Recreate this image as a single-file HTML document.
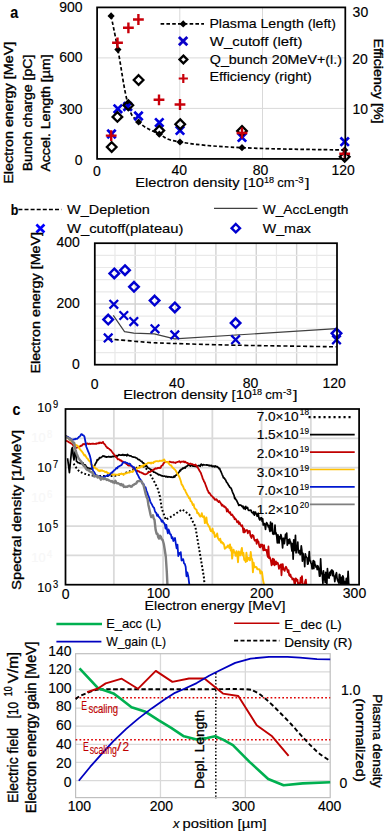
<!DOCTYPE html>
<html><head><meta charset="utf-8"><style>
html,body{margin:0;padding:0;background:#fff;}
svg{display:block;}
text{font-family:"Liberation Sans", sans-serif;}
</style></head><body>
<svg width="391" height="833" viewBox="0 0 391 833" font-family='"Liberation Sans", sans-serif'>
<rect x="0" y="0" width="391" height="833" fill="#fff"/>
<line x1="97.10" y1="57.90" x2="345.30" y2="57.90" stroke="#d9d9d9" stroke-width="1"/>
<line x1="97.10" y1="108.40" x2="345.30" y2="108.40" stroke="#d9d9d9" stroke-width="1"/>
<line x1="179.80" y1="7.40" x2="179.80" y2="158.90" stroke="#d9d9d9" stroke-width="1"/>
<line x1="262.50" y1="7.40" x2="262.50" y2="158.90" stroke="#d9d9d9" stroke-width="1"/>
<line x1="160.60" y1="23.90" x2="204.00" y2="23.90" stroke="#000" stroke-width="1.7" stroke-dasharray="3.6 2.2"/>
<path d="M183.20,20.30 L186.80,23.90 L183.20,27.50 L179.60,23.90 Z" fill="#000"/>
<path d="M178.90,36.90 L187.30,45.30 M187.30,36.90 L178.90,45.30" stroke="#0a00c8" stroke-width="2.8" fill="none"/>
<path d="M183.40,55.65 L187.25,59.50 L183.40,63.35 L179.55,59.50 Z" fill="none" stroke="#000" stroke-width="2.4"/>
<path d="M178.70,78.50 L187.90,78.50 M183.30,73.90 L183.30,83.10" stroke="#c8000a" stroke-width="2.2" fill="none"/>
<text x="209.40" y="28.10" font-size="13" textLength="126.60" lengthAdjust="spacingAndGlyphs" stroke="#000" stroke-width="0.15">Plasma Length (left)</text>
<text x="209.80" y="45.90" font-size="13" textLength="92.60" lengthAdjust="spacingAndGlyphs" stroke="#000" stroke-width="0.15">W_cutoff (left)</text>
<text x="209.80" y="63.60" font-size="13" textLength="132.20" lengthAdjust="spacingAndGlyphs" stroke="#000" stroke-width="0.15">Q_bunch 20MeV+(l.)</text>
<text x="209.40" y="81.40" font-size="13" textLength="102.50" lengthAdjust="spacingAndGlyphs" stroke="#000" stroke-width="0.15">Efficiency (right)</text>
<path d="M111.10,15.90 C112.46,22.64 114.52,31.98 117.90,49.60 C121.28,67.22 123.86,89.52 128.00,104.00 C132.14,118.48 132.34,115.96 138.60,122.00 C144.86,128.04 151.02,130.20 159.30,134.20 C167.58,138.20 163.46,139.30 180.00,142.00 C196.54,144.70 209.06,146.10 242.00,147.70 C274.94,149.30 324.16,149.54 344.70,150.00" fill="none" stroke="#000" stroke-width="1.7" stroke-dasharray="3.6 2.2"/>
<path d="M111.10,12.30 L114.70,15.90 L111.10,19.50 L107.50,15.90 Z" fill="#000"/>
<path d="M117.90,46.00 L121.50,49.60 L117.90,53.20 L114.30,49.60 Z" fill="#000"/>
<path d="M128.00,100.40 L131.60,104.00 L128.00,107.60 L124.40,104.00 Z" fill="#000"/>
<path d="M138.60,118.40 L142.20,122.00 L138.60,125.60 L135.00,122.00 Z" fill="#000"/>
<path d="M159.30,130.60 L162.90,134.20 L159.30,137.80 L155.70,134.20 Z" fill="#000"/>
<path d="M180.00,138.40 L183.60,142.00 L180.00,145.60 L176.40,142.00 Z" fill="#000"/>
<path d="M242.00,144.10 L245.60,147.70 L242.00,151.30 L238.40,147.70 Z" fill="#000"/>
<path d="M344.70,146.40 L348.30,150.00 L344.70,153.60 L341.10,150.00 Z" fill="#000"/>
<path d="M107.30,129.80 L115.70,138.20 M115.70,129.80 L107.30,138.20" stroke="#0000e0" stroke-width="2.7" fill="none"/>
<path d="M113.70,104.60 L122.10,113.00 M122.10,104.60 L113.70,113.00" stroke="#0000e0" stroke-width="2.7" fill="none"/>
<path d="M123.50,102.30 L131.90,110.70 M131.90,102.30 L123.50,110.70" stroke="#0000e0" stroke-width="2.7" fill="none"/>
<path d="M134.30,111.80 L142.70,120.20 M142.70,111.80 L134.30,120.20" stroke="#0000e0" stroke-width="2.7" fill="none"/>
<path d="M155.10,118.40 L163.50,126.80 M163.50,118.40 L155.10,126.80" stroke="#0000e0" stroke-width="2.7" fill="none"/>
<path d="M175.80,126.20 L184.20,134.60 M184.20,126.20 L175.80,134.60" stroke="#0000e0" stroke-width="2.7" fill="none"/>
<path d="M237.80,133.20 L246.20,141.60 M246.20,133.20 L237.80,141.60" stroke="#0000e0" stroke-width="2.7" fill="none"/>
<path d="M340.50,137.50 L348.90,145.90 M348.90,137.50 L340.50,145.90" stroke="#0000e0" stroke-width="2.7" fill="none"/>
<path d="M111.70,142.20 L116.50,147.00 L111.70,151.80 L106.90,147.00 Z" fill="none" stroke="#000" stroke-width="2.3"/>
<path d="M117.40,112.10 L122.20,116.90 L117.40,121.70 L112.60,116.90 Z" fill="none" stroke="#000" stroke-width="2.3"/>
<path d="M128.30,100.40 L133.10,105.20 L128.30,110.00 L123.50,105.20 Z" fill="none" stroke="#000" stroke-width="2.3"/>
<path d="M138.60,75.20 L143.40,80.00 L138.60,84.80 L133.80,80.00 Z" fill="none" stroke="#000" stroke-width="2.3"/>
<path d="M159.30,125.80 L164.10,130.60 L159.30,135.40 L154.50,130.60 Z" fill="none" stroke="#000" stroke-width="2.3"/>
<path d="M180.20,119.40 L185.00,124.20 L180.20,129.00 L175.40,124.20 Z" fill="none" stroke="#000" stroke-width="2.3"/>
<path d="M242.00,126.10 L246.80,130.90 L242.00,135.70 L237.20,130.90 Z" fill="none" stroke="#000" stroke-width="2.3"/>
<path d="M344.70,152.00 L349.50,156.80 L344.70,161.60 L339.90,156.80 Z" fill="none" stroke="#000" stroke-width="2.3"/>
<path d="M105.80,135.60 L116.60,135.60 M111.20,130.20 L111.20,141.00" stroke="#c8000a" stroke-width="2.4" fill="none"/>
<path d="M112.10,42.80 L122.90,42.80 M117.50,37.40 L117.50,48.20" stroke="#c8000a" stroke-width="2.4" fill="none"/>
<path d="M123.00,27.80 L133.80,27.80 M128.40,22.40 L128.40,33.20" stroke="#c8000a" stroke-width="2.4" fill="none"/>
<path d="M133.00,19.50 L143.80,19.50 M138.40,14.10 L138.40,24.90" stroke="#c8000a" stroke-width="2.4" fill="none"/>
<path d="M153.60,99.80 L164.40,99.80 M159.00,94.40 L159.00,105.20" stroke="#c8000a" stroke-width="2.4" fill="none"/>
<path d="M174.60,104.50 L185.40,104.50 M180.00,99.10 L180.00,109.90" stroke="#c8000a" stroke-width="2.4" fill="none"/>
<path d="M236.60,133.00 L247.40,133.00 M242.00,127.60 L242.00,138.40" stroke="#c8000a" stroke-width="2.4" fill="none"/>
<path d="M339.30,153.70 L350.10,153.70 M344.70,148.30 L344.70,159.10" stroke="#c8000a" stroke-width="2.4" fill="none"/>
<rect x="97.10" y="7.40" width="248.20" height="151.50" fill="none" stroke="#000" stroke-width="1.75"/>
<text x="82.60" y="11.70" font-size="14" stroke="#000" stroke-width="0.15" text-anchor="end">900</text>
<text x="82.60" y="62.20" font-size="14" stroke="#000" stroke-width="0.15" text-anchor="end">600</text>
<text x="82.60" y="113.50" font-size="14" stroke="#000" stroke-width="0.15" text-anchor="end">300</text>
<text x="82.60" y="164.80" font-size="14" stroke="#000" stroke-width="0.15" text-anchor="end">0</text>
<text x="97.00" y="175.60" font-size="14" stroke="#000" stroke-width="0.15" text-anchor="middle">0</text>
<text x="179.30" y="175.40" font-size="14" stroke="#000" stroke-width="0.15" text-anchor="middle">40</text>
<text x="260.60" y="175.30" font-size="14" stroke="#000" stroke-width="0.15" text-anchor="middle">80</text>
<text x="343.20" y="175.30" font-size="14" stroke="#000" stroke-width="0.15" text-anchor="middle">120</text>
<text x="352.60" y="17.30" font-size="14" stroke="#000" stroke-width="0.15" text-anchor="start">30</text>
<text x="352.30" y="64.20" font-size="14" stroke="#000" stroke-width="0.15" text-anchor="start">20</text>
<text x="352.50" y="114.00" font-size="14" stroke="#000" stroke-width="0.15" text-anchor="start">10</text>
<text x="135.20" y="186.80" font-size="12.8" textLength="128.80" lengthAdjust="spacingAndGlyphs" stroke="#000" stroke-width="0.15">Electron density [10</text>
<text x="264.00" y="182.50" font-size="8.4" textLength="10.10" lengthAdjust="spacingAndGlyphs" stroke="#000" stroke-width="0.15">18</text>
<text x="277.30" y="186.80" font-size="12.8" textLength="17.40" lengthAdjust="spacingAndGlyphs" stroke="#000" stroke-width="0.15">cm</text>
<text x="295.00" y="182.50" font-size="8.4" textLength="8.60" lengthAdjust="spacingAndGlyphs" stroke="#000" stroke-width="0.15">-3</text>
<text x="305.00" y="186.80" font-size="13" textLength="4.50" lengthAdjust="spacingAndGlyphs" stroke="#000" stroke-width="0.15">]</text>
<text x="12.90" y="183.70" font-size="12.6" textLength="141.90" lengthAdjust="spacingAndGlyphs" stroke="#000" stroke-width="0.35" transform="rotate(-90 12.90 183.70)">Electron energy [MeV]</text>
<text x="32.10" y="171.30" font-size="12.6" textLength="116.60" lengthAdjust="spacingAndGlyphs" stroke="#000" stroke-width="0.35" transform="rotate(-90 32.10 171.30)">Bunch charge [pC]</text>
<text x="50.30" y="171.60" font-size="12.6" textLength="117.20" lengthAdjust="spacingAndGlyphs" stroke="#000" stroke-width="0.35" transform="rotate(-90 50.30 171.60)">Accel. Length [µm]</text>
<text x="374.40" y="38.40" font-size="12.6" textLength="85.20" lengthAdjust="spacingAndGlyphs" stroke="#000" stroke-width="0.35" transform="rotate(90 374.40 38.40)">Efficiency [%]</text>
<text x="10.30" y="17.70" font-size="16.5" textLength="8.00" lengthAdjust="spacingAndGlyphs" stroke="#000" stroke-width="0.15" font-weight="bold">a</text>
<line x1="114.98" y1="243.20" x2="114.98" y2="364.70" stroke="#e9e9e9" stroke-width="1.2"/>
<line x1="135.17" y1="243.20" x2="135.17" y2="364.70" stroke="#d2d2d2" stroke-width="1.4"/>
<line x1="155.35" y1="243.20" x2="155.35" y2="364.70" stroke="#e9e9e9" stroke-width="1.2"/>
<line x1="175.53" y1="243.20" x2="175.53" y2="364.70" stroke="#d2d2d2" stroke-width="1.4"/>
<line x1="195.72" y1="243.20" x2="195.72" y2="364.70" stroke="#e9e9e9" stroke-width="1.2"/>
<line x1="215.90" y1="243.20" x2="215.90" y2="364.70" stroke="#d2d2d2" stroke-width="1.4"/>
<line x1="236.08" y1="243.20" x2="236.08" y2="364.70" stroke="#e9e9e9" stroke-width="1.2"/>
<line x1="256.27" y1="243.20" x2="256.27" y2="364.70" stroke="#d2d2d2" stroke-width="1.4"/>
<line x1="276.45" y1="243.20" x2="276.45" y2="364.70" stroke="#e9e9e9" stroke-width="1.2"/>
<line x1="296.63" y1="243.20" x2="296.63" y2="364.70" stroke="#d2d2d2" stroke-width="1.4"/>
<line x1="316.82" y1="243.20" x2="316.82" y2="364.70" stroke="#e9e9e9" stroke-width="1.2"/>
<line x1="94.80" y1="352.55" x2="337.00" y2="352.55" stroke="#e9e9e9" stroke-width="1.2"/>
<line x1="94.80" y1="340.40" x2="337.00" y2="340.40" stroke="#e9e9e9" stroke-width="1.2"/>
<line x1="94.80" y1="328.25" x2="337.00" y2="328.25" stroke="#e9e9e9" stroke-width="1.2"/>
<line x1="94.80" y1="316.10" x2="337.00" y2="316.10" stroke="#e9e9e9" stroke-width="1.2"/>
<line x1="94.80" y1="303.95" x2="337.00" y2="303.95" stroke="#d2d2d2" stroke-width="1.4"/>
<line x1="94.80" y1="291.80" x2="337.00" y2="291.80" stroke="#e9e9e9" stroke-width="1.2"/>
<line x1="94.80" y1="279.65" x2="337.00" y2="279.65" stroke="#e9e9e9" stroke-width="1.2"/>
<line x1="94.80" y1="267.50" x2="337.00" y2="267.50" stroke="#e9e9e9" stroke-width="1.2"/>
<line x1="94.80" y1="255.35" x2="337.00" y2="255.35" stroke="#e9e9e9" stroke-width="1.2"/>
<line x1="18.40" y1="209.50" x2="61.40" y2="209.50" stroke="#000" stroke-width="1.5" stroke-dasharray="4 2.1"/>
<text x="67.00" y="214.00" font-size="13" textLength="82.90" lengthAdjust="spacingAndGlyphs" stroke="#000" stroke-width="0.15">W_Depletion</text>
<path d="M36.40,224.50 L44.40,232.50 M44.40,224.50 L36.40,232.50" stroke="#0000ff" stroke-width="2.6" fill="none"/>
<text x="67.00" y="233.40" font-size="13" textLength="116.50" lengthAdjust="spacingAndGlyphs" stroke="#000" stroke-width="0.15">W_cutoff(plateau)</text>
<line x1="214.00" y1="208.30" x2="257.50" y2="208.30" stroke="#404040" stroke-width="1.2"/>
<text x="262.70" y="214.00" font-size="13" textLength="85.70" lengthAdjust="spacingAndGlyphs" stroke="#000" stroke-width="0.15">W_AccLength</text>
<path d="M235.80,224.00 L240.00,228.20 L235.80,232.40 L231.60,228.20 Z" fill="none" stroke="#0000d0" stroke-width="2.4"/>
<text x="262.70" y="233.40" font-size="13" textLength="48.30" lengthAdjust="spacingAndGlyphs" stroke="#000" stroke-width="0.15">W_max</text>
<text x="10.70" y="214.70" font-size="15" textLength="7.60" lengthAdjust="spacingAndGlyphs" stroke="#000" stroke-width="0.15" font-weight="bold">b</text>
<polyline points="113.30,315.30 124.50,331.70 133.80,333.10 154.20,333.80 174.60,338.90 336.50,328.70" fill="none" stroke="#404040" stroke-width="1.2" stroke-linejoin="round"/>
<path d="M108.20,338.90 C111.95,339.23 123.55,340.28 130.70,340.90 C137.85,341.52 143.72,342.17 151.10,342.60 C158.48,343.03 160.92,343.07 175.00,343.50 C189.08,343.93 208.68,344.65 235.60,345.20 C262.52,345.75 319.68,346.53 336.50,346.80" fill="none" stroke="#000" stroke-width="1.6" stroke-dasharray="4 2.5"/>
<path d="M108.20,314.85 L112.95,319.60 L108.20,324.35 L103.45,319.60 Z" fill="none" stroke="#0000d0" stroke-width="2.5"/>
<path d="M114.30,268.65 L119.05,273.40 L114.30,278.15 L109.55,273.40 Z" fill="none" stroke="#0000d0" stroke-width="2.5"/>
<path d="M125.00,265.45 L129.75,270.20 L125.00,274.95 L120.25,270.20 Z" fill="none" stroke="#0000d0" stroke-width="2.5"/>
<path d="M134.00,282.05 L138.75,286.80 L134.00,291.55 L129.25,286.80 Z" fill="none" stroke="#0000d0" stroke-width="2.5"/>
<path d="M154.60,295.85 L159.35,300.60 L154.60,305.35 L149.85,300.60 Z" fill="none" stroke="#0000d0" stroke-width="2.5"/>
<path d="M174.80,302.65 L179.55,307.40 L174.80,312.15 L170.05,307.40 Z" fill="none" stroke="#0000d0" stroke-width="2.5"/>
<path d="M235.60,318.35 L240.35,323.10 L235.60,327.85 L230.85,323.10 Z" fill="none" stroke="#0000d0" stroke-width="2.5"/>
<path d="M336.50,328.55 L341.25,333.30 L336.50,338.05 L331.75,333.30 Z" fill="none" stroke="#0000d0" stroke-width="2.5"/>
<path d="M103.90,333.60 L112.50,342.20 M112.50,333.60 L103.90,342.20" stroke="#0000d0" stroke-width="2.3" fill="none"/>
<path d="M109.50,300.00 L118.10,308.60 M118.10,300.00 L109.50,308.60" stroke="#0000d0" stroke-width="2.3" fill="none"/>
<path d="M119.50,311.20 L128.10,319.80 M128.10,311.20 L119.50,319.80" stroke="#0000d0" stroke-width="2.3" fill="none"/>
<path d="M129.50,317.30 L138.10,325.90 M138.10,317.30 L129.50,325.90" stroke="#0000d0" stroke-width="2.3" fill="none"/>
<path d="M150.70,324.50 L159.30,333.10 M159.30,324.50 L150.70,333.10" stroke="#0000d0" stroke-width="2.3" fill="none"/>
<path d="M170.50,330.60 L179.10,339.20 M179.10,330.60 L170.50,339.20" stroke="#0000d0" stroke-width="2.3" fill="none"/>
<path d="M231.30,335.40 L239.90,344.00 M239.90,335.40 L231.30,344.00" stroke="#0000d0" stroke-width="2.3" fill="none"/>
<path d="M332.20,335.50 L340.80,344.10 M340.80,335.50 L332.20,344.10" stroke="#0000d0" stroke-width="2.3" fill="none"/>
<rect x="94.80" y="243.20" width="242.20" height="121.50" fill="none" stroke="#000" stroke-width="1.75"/>
<text x="79.90" y="247.00" font-size="14" stroke="#000" stroke-width="0.15" text-anchor="end">400</text>
<text x="79.90" y="308.10" font-size="14" stroke="#000" stroke-width="0.15" text-anchor="end">200</text>
<text x="79.90" y="369.10" font-size="14" stroke="#000" stroke-width="0.15" text-anchor="end">0</text>
<text x="94.70" y="388.60" font-size="14" stroke="#000" stroke-width="0.15" text-anchor="middle">0</text>
<text x="176.90" y="388.20" font-size="14" stroke="#000" stroke-width="0.15" text-anchor="middle">40</text>
<text x="250.50" y="388.10" font-size="14" stroke="#000" stroke-width="0.15" text-anchor="middle">80</text>
<text x="334.10" y="388.20" font-size="14" stroke="#000" stroke-width="0.15" text-anchor="middle">120</text>
<text x="123.20" y="399.10" font-size="12.8" textLength="128.80" lengthAdjust="spacingAndGlyphs" stroke="#000" stroke-width="0.15">Electron density [10</text>
<text x="252.00" y="394.80" font-size="8.4" textLength="10.10" lengthAdjust="spacingAndGlyphs" stroke="#000" stroke-width="0.15">18</text>
<text x="265.30" y="399.10" font-size="12.8" textLength="17.40" lengthAdjust="spacingAndGlyphs" stroke="#000" stroke-width="0.15">cm</text>
<text x="283.00" y="394.80" font-size="8.4" textLength="8.60" lengthAdjust="spacingAndGlyphs" stroke="#000" stroke-width="0.15">-3</text>
<text x="293.00" y="399.10" font-size="13" textLength="4.50" lengthAdjust="spacingAndGlyphs" stroke="#000" stroke-width="0.15">]</text>
<text x="40.00" y="373.60" font-size="12.6" textLength="141.70" lengthAdjust="spacingAndGlyphs" stroke="#000" stroke-width="0.35" transform="rotate(-90 40.00 373.60)">Electron energy [MeV]</text>
<line x1="113.85" y1="409.00" x2="113.85" y2="584.70" stroke="#dadada" stroke-width="1.8"/>
<line x1="163.10" y1="409.00" x2="163.10" y2="584.70" stroke="#dadada" stroke-width="1.8"/>
<line x1="212.35" y1="409.00" x2="212.35" y2="584.70" stroke="#dadada" stroke-width="1.8"/>
<line x1="261.60" y1="409.00" x2="261.60" y2="584.70" stroke="#dadada" stroke-width="1.8"/>
<line x1="310.85" y1="409.00" x2="310.85" y2="584.70" stroke="#dadada" stroke-width="1.8"/>
<line x1="65.50" y1="555.42" x2="359.10" y2="555.42" stroke="#dadada" stroke-width="1.8"/>
<line x1="65.50" y1="526.13" x2="359.10" y2="526.13" stroke="#dadada" stroke-width="1.8"/>
<line x1="65.50" y1="496.85" x2="359.10" y2="496.85" stroke="#dadada" stroke-width="1.8"/>
<line x1="65.50" y1="467.57" x2="359.10" y2="467.57" stroke="#dadada" stroke-width="1.8"/>
<line x1="65.50" y1="438.28" x2="359.10" y2="438.28" stroke="#dadada" stroke-width="1.8"/>
<defs><clipPath id="cc"><rect x="65.5" y="409" width="293.6" height="175.70000000000005"/></clipPath></defs>
<g clip-path="url(#cc)">
<polyline points="73.60,463.60 74.50,465.00 75.40,466.40 76.30,467.80 77.23,468.93 78.17,470.07 79.10,471.20 79.96,471.64 80.82,472.08 81.68,472.52 82.54,472.96 83.40,473.40 84.24,473.65 85.08,473.90 85.91,474.15 86.75,474.40 87.59,474.65 88.42,474.90 89.26,475.15 90.10,475.40 90.96,475.47 91.81,475.53 92.67,475.60 93.52,475.67 94.38,475.73 95.23,475.80 96.09,475.87 96.94,475.93 97.80,476.00 98.62,476.00 99.44,476.00 100.26,476.00 101.08,476.00 101.90,476.00 102.72,476.00 103.54,476.00 104.36,476.00 105.18,476.00 106.00,476.00 106.82,476.00 107.64,476.00 108.46,476.00 109.28,476.00 110.10,476.00 110.92,476.00 111.74,476.00 112.56,476.00 113.38,476.00 114.20,476.00 115.04,475.79 115.87,475.58 116.71,475.37 117.55,475.16 118.38,474.95 119.22,474.75 120.05,474.54 120.89,474.33 121.73,474.12 122.56,473.91 123.40,473.70 124.27,473.37 125.14,473.04 126.01,472.71 126.89,472.39 127.76,472.06 128.63,471.73 129.50,471.40 130.39,470.97 131.27,470.54 132.16,470.11 133.04,469.69 133.93,469.26 134.81,468.83 135.70,468.40 136.65,467.82 137.60,467.25 138.55,466.68 139.50,466.10 140.40,466.22 141.30,466.33 142.20,466.45 143.10,466.57 144.00,466.68 144.90,466.80 145.82,468.04 146.74,469.28 147.66,470.52 148.58,471.76 149.50,473.00 150.42,474.68 151.34,476.36 152.26,478.04 153.18,479.72 154.10,481.40 155.05,483.32 156.00,485.25 156.95,487.18 157.90,489.10 158.95,492.90 160.00,496.70 160.85,502.55 161.70,508.40 162.52,510.66 163.34,512.92 164.16,515.18 164.98,517.44 165.80,519.70 166.69,519.19 167.58,518.68 168.46,518.16 169.35,517.65 170.24,517.14 171.12,516.62 172.01,516.11 172.90,515.60 173.74,515.04 174.57,514.47 175.41,513.91 176.25,513.35 177.08,512.78 177.92,512.22 178.75,511.65 179.59,511.09 180.43,510.53 181.26,509.96 182.10,509.40 182.90,509.97 183.70,510.53 184.50,511.10 185.30,511.67 186.10,512.23 186.90,512.80 187.70,513.37 188.50,513.93 189.30,514.50 190.17,516.26 191.04,518.01 191.91,519.77 192.79,521.53 193.66,523.29 194.53,525.04 195.40,526.80 196.43,532.93 197.47,539.07 198.50,545.20 199.53,551.33 200.57,557.47 201.60,563.60 202.40,568.40 203.20,573.20 204.00,578.00 204.50,584.40" fill="none" stroke="#000" stroke-width="2.0" stroke-linejoin="round" stroke-dasharray="1.8 2.0" stroke-linecap="butt"/>
<polyline points="67.60,458.24 68.20,463.09 68.80,467.70 69.40,472.55 70.50,461.30 71.10,455.45 71.70,449.05 72.50,447.51 73.20,455.69 74.00,460.00 75.00,452.13 75.80,450.63 76.50,461.44 77.25,461.72 78.00,462.59 78.67,462.79 79.33,463.08 80.00,463.50 80.60,463.41 81.20,463.55 81.80,463.61 82.40,463.72 83.00,462.98 83.57,464.32 84.14,464.78 84.71,465.42 85.29,465.02 85.86,466.10 86.43,466.45 87.00,468.28 87.57,467.85 88.14,468.17 88.71,468.15 89.29,468.78 89.86,468.38 90.43,468.52 91.00,468.88 91.60,468.85 92.20,468.17 92.80,467.89 93.40,467.44 94.00,467.28 94.64,465.56 95.28,464.03 95.92,463.10 96.56,461.91 97.20,459.69 97.78,460.26 98.36,459.35 98.94,458.99 99.52,457.59 100.10,457.94 100.68,457.78 101.26,457.25 101.84,456.88 102.42,456.45 103.00,455.83 103.58,456.13 104.16,456.50 104.74,456.15 105.31,456.98 105.89,456.67 106.47,457.19 107.05,456.80 107.63,456.95 108.21,456.85 108.79,456.49 109.36,456.95 109.94,457.00 110.52,456.61 111.10,457.09 111.65,456.66 112.20,456.58 112.75,456.44 113.30,456.61 113.85,456.18 114.40,456.37 114.95,456.11 115.50,455.92 116.05,455.54 116.60,455.93 117.15,456.30 117.70,455.55 118.25,455.40 118.80,454.68 119.38,454.80 119.95,455.15 120.52,455.00 121.10,455.15 121.67,454.93 122.25,455.10 122.83,454.48 123.40,454.93 123.97,455.45 124.55,454.82 125.12,454.90 125.70,455.07 126.28,455.19 126.85,455.81 127.42,454.30 128.00,455.02 128.59,455.35 129.18,455.55 129.78,455.89 130.37,455.80 130.96,455.93 131.55,456.51 132.15,456.74 132.74,456.91 133.33,457.10 133.92,457.02 134.52,457.24 135.11,457.37 135.70,457.57 136.25,457.98 136.81,458.02 137.36,458.61 137.92,459.32 138.47,459.65 139.03,459.56 139.58,459.82 140.14,460.55 140.69,460.99 141.25,461.31 141.80,461.23 142.36,462.38 142.93,463.04 143.49,462.83 144.05,463.46 144.62,464.39 145.18,465.14 145.75,466.26 146.31,465.43 146.87,466.19 147.44,467.09 148.00,467.87 148.55,468.20 149.11,468.34 149.66,468.75 150.22,468.98 150.77,470.02 151.33,469.64 151.88,470.65 152.44,470.93 152.99,471.25 153.55,472.07 154.10,472.16 154.65,472.26 155.21,472.55 155.76,472.91 156.32,473.46 156.87,473.46 157.43,473.83 157.98,474.23 158.54,474.81 159.09,474.50 159.65,474.89 160.20,475.05 160.79,475.42 161.38,475.54 161.97,475.92 162.56,475.81 163.15,476.20 163.74,476.25 164.33,476.19 164.92,476.15 165.51,476.60 166.10,476.85 166.66,476.45 167.23,476.52 167.79,477.08 168.35,476.71 168.92,476.83 169.48,476.80 170.05,476.96 170.61,477.24 171.17,476.90 171.74,477.28 172.30,477.19 172.89,477.39 173.47,477.23 174.06,476.09 174.64,477.10 175.23,475.88 175.81,475.19 176.40,475.11 176.99,474.10 177.57,473.88 178.16,473.42 178.74,472.25 179.33,472.06 179.91,470.39 180.50,470.79 181.08,469.44 181.66,469.30 182.24,469.00 182.81,468.02 183.39,468.41 183.97,468.06 184.55,467.38 185.13,468.08 185.71,467.08 186.29,466.42 186.86,466.24 187.44,465.76 188.02,465.25 188.60,464.18 189.19,464.49 189.77,465.61 190.36,466.08 190.94,465.56 191.53,465.41 192.11,465.19 192.70,466.14 193.29,465.93 193.87,466.07 194.46,466.20 195.04,466.41 195.63,466.30 196.21,465.94 196.80,466.52 197.36,466.24 197.93,465.80 198.49,465.50 199.05,465.78 199.62,465.54 200.18,466.35 200.75,464.79 201.31,464.12 201.87,464.63 202.44,465.50 203.00,464.73 203.58,464.68 204.16,464.83 204.74,464.98 205.31,465.00 205.89,465.02 206.47,464.74 207.05,465.25 207.63,465.14 208.21,465.15 208.79,465.60 209.36,465.25 209.94,465.77 210.52,465.60 211.10,465.87 211.66,465.47 212.23,466.73 212.79,466.31 213.35,466.12 213.92,466.33 214.48,466.86 215.05,465.81 215.61,466.63 216.17,466.39 216.74,466.78 217.30,466.62 217.90,467.44 218.50,467.61 219.10,468.75 219.70,468.37 220.30,470.38 220.92,471.48 221.54,473.05 222.16,474.53 222.78,475.82 223.40,477.88 223.99,477.71 224.57,478.47 225.16,479.53 225.74,480.14 226.33,481.69 226.91,482.65 227.50,483.13 228.09,484.29 228.67,485.50 229.26,485.98 229.84,487.41 230.43,487.53 231.01,488.06 231.60,489.41 232.22,491.24 232.84,492.90 233.46,494.09 234.08,495.52 234.70,498.54 235.29,498.19 235.87,499.82 236.46,500.10 237.04,501.34 237.63,502.56 238.21,503.79 238.80,505.50 239.50,504.90 240.20,505.16 240.76,505.14 241.33,505.51 241.89,506.34 242.45,506.80 243.02,506.22 243.58,508.58 244.15,507.53 244.71,507.14 245.27,509.35 245.84,506.41 246.40,508.17 246.99,508.27 247.57,507.45 248.16,509.84 248.74,510.37 249.33,510.35 249.91,510.52 250.50,510.04 251.05,510.28 251.61,512.08 252.16,512.59 252.72,512.49 253.27,513.75 253.83,511.74 254.38,515.21 254.94,513.48 255.49,512.12 256.05,513.46 256.60,514.18 257.15,516.27 257.71,514.08 258.26,513.30 258.82,517.52 259.37,519.23 259.93,520.09 260.48,518.16 261.04,517.86 261.59,517.95 262.15,521.30 262.70,518.91 263.26,525.06 263.83,524.26 264.39,523.53 264.95,525.39 265.52,529.44 266.08,524.01 266.65,522.65 267.21,523.60 267.77,525.18 268.34,526.88 268.90,525.44 269.45,529.32 270.01,531.50 270.56,522.16 271.12,530.01 271.67,530.74 272.23,523.25 272.78,533.92 273.34,532.87 273.89,534.30 274.45,532.18 275.00,525.02 275.59,533.95 276.17,533.07 276.76,536.57 277.34,542.84 277.93,534.77 278.51,538.11 279.10,543.04 279.69,536.60 280.27,538.64 280.86,534.65 281.44,537.04 282.03,541.37 282.61,547.85 283.20,538.41 283.79,538.34 284.37,543.66 284.96,539.21 285.54,534.24 286.13,538.18 286.71,533.02 287.30,545.13 287.89,539.98 288.47,539.75 289.06,543.59 289.64,539.20 290.23,541.62 290.81,542.33 291.40,546.98 291.98,551.01 292.56,543.65 293.14,559.21 293.72,539.77 294.31,550.72 294.89,546.65 295.47,535.33 296.05,552.97 296.63,547.87 297.21,549.43 297.79,542.01 298.38,552.90 298.96,550.46 299.54,550.67 300.12,554.61 300.70,552.86 301.27,545.97 301.84,550.23 302.42,561.18 302.99,553.30 303.56,557.92 304.13,557.56 304.71,566.67 305.28,553.79 305.85,556.08 306.42,557.19 306.99,557.68 307.57,564.25 308.14,563.77 308.71,558.89 309.28,551.63 309.86,560.68 310.43,560.74 311.00,563.04 311.57,564.16 312.13,569.00 312.70,563.99 313.27,560.65 313.83,568.73 314.40,561.23 314.97,564.83 315.53,565.00 316.10,567.19 316.67,566.36 317.23,569.56 317.80,565.73 318.37,567.09 318.93,570.04 319.50,576.22 320.07,576.06 320.63,558.73 321.20,570.26 321.77,573.62 322.33,574.80 322.90,583.51 323.47,570.77 324.03,579.60 324.60,574.75 325.17,582.54 325.73,572.29 326.30,573.83 326.87,583.79 327.43,568.51 328.00,576.06 328.57,577.44 329.13,578.18 329.70,572.30 330.27,575.35 330.83,571.43 331.40,570.44 331.97,569.96 332.53,575.69 333.10,571.01 333.67,575.50 334.23,576.49 334.80,581.69 335.37,576.80 335.93,574.41 336.50,572.74 337.07,578.47 337.63,580.38 338.20,581.61 338.77,583.04 339.33,574.45 339.90,574.90 340.47,585.70 341.03,581.30 341.60,577.46 342.19,585.70 342.78,575.91 343.38,577.33 343.97,585.70 344.56,581.71 345.15,583.73 345.75,583.83 346.34,578.41 346.93,581.42 347.52,584.27 348.12,571.28 348.71,583.85 349.30,584.40" fill="none" stroke="#000" stroke-width="1.7" stroke-linejoin="round"/>
<polyline points="65.50,440.06 66.11,440.66 66.72,441.08 67.33,441.14 67.94,441.57 68.55,442.06 69.15,442.41 69.76,442.38 70.37,443.18 70.98,443.33 71.59,443.62 72.20,444.05 72.83,445.01 73.47,445.18 74.10,446.19 74.73,446.90 75.37,447.40 76.00,447.60 76.65,447.83 77.30,447.45 77.95,447.10 78.60,447.07 79.25,446.58 79.90,446.49 80.54,446.00 81.18,445.61 81.81,445.78 82.45,444.81 83.09,443.91 83.72,444.43 84.36,444.14 85.00,444.29 85.64,443.42 86.28,443.81 86.92,443.62 87.56,443.45 88.20,444.01 88.84,443.91 89.48,443.57 90.12,444.04 90.76,443.91 91.40,443.89 92.04,443.73 92.68,443.73 93.32,443.74 93.96,443.92 94.60,443.82 95.24,443.83 95.88,443.61 96.52,443.82 97.16,443.27 97.80,443.40 98.45,443.46 99.10,442.49 99.75,443.18 100.40,442.53 101.05,442.74 101.70,443.08 102.35,442.33 103.00,441.86 103.62,443.46 104.24,443.85 104.86,444.41 105.48,445.29 106.10,446.55 106.72,446.87 107.35,448.08 107.97,447.96 108.60,448.46 109.22,448.76 109.85,449.72 110.47,449.93 111.10,450.43 111.72,451.52 112.34,452.30 112.96,453.14 113.58,453.83 114.20,454.72 114.82,455.43 115.44,456.10 116.06,457.33 116.68,457.36 117.30,458.45 117.91,459.41 118.52,459.07 119.13,459.29 119.74,459.91 120.35,460.59 120.96,460.35 121.57,460.73 122.18,461.69 122.79,461.51 123.40,462.07 124.04,462.39 124.68,462.60 125.33,462.90 125.97,463.19 126.61,464.21 127.25,464.33 127.89,465.14 128.53,465.48 129.18,465.42 129.82,465.59 130.46,465.70 131.10,465.72 131.71,466.39 132.32,466.85 132.93,467.58 133.54,468.26 134.15,468.19 134.76,468.55 135.37,469.38 135.98,469.60 136.59,469.96 137.20,470.70 137.84,471.28 138.48,471.22 139.12,471.33 139.77,472.14 140.41,472.44 141.05,472.40 141.69,472.70 142.33,473.33 142.97,473.27 143.62,473.85 144.26,474.19 144.90,474.29 145.56,474.27 146.21,474.14 146.87,473.79 147.53,473.34 148.19,472.60 148.84,472.25 149.50,472.05 150.11,472.11 150.72,471.19 151.33,471.30 151.94,470.55 152.55,470.61 153.16,469.57 153.77,469.41 154.38,469.50 154.99,468.48 155.60,468.22 156.23,468.63 156.86,468.52 157.49,468.00 158.11,468.09 158.74,467.90 159.37,467.74 160.00,468.12 160.68,467.64 161.37,465.85 162.05,465.55 162.73,464.96 163.42,463.85 164.10,462.54 164.78,462.31 165.47,462.23 166.15,461.91 166.83,461.96 167.52,461.98 168.20,462.10 168.81,462.07 169.42,461.66 170.03,461.71 170.64,462.13 171.25,462.08 171.86,462.29 172.47,462.35 173.08,462.05 173.69,462.58 174.30,462.71 174.93,462.50 175.56,462.96 176.19,462.37 176.82,462.25 177.45,461.93 178.08,461.76 178.72,461.70 179.35,461.08 179.98,461.99 180.61,462.50 181.24,461.71 181.87,461.59 182.50,461.68 183.13,461.78 183.76,461.37 184.39,462.26 185.02,461.73 185.65,461.91 186.28,462.79 186.92,462.80 187.55,462.93 188.18,463.64 188.81,463.58 189.44,464.19 190.07,463.62 190.70,463.52 191.31,464.23 191.92,464.03 192.53,464.14 193.14,464.55 193.75,464.82 194.36,464.86 194.97,465.41 195.58,464.50 196.19,465.67 196.80,466.16 197.48,467.30 198.17,468.09 198.85,469.52 199.53,470.72 200.22,471.89 200.90,473.02 201.52,474.88 202.14,476.46 202.76,478.72 203.38,479.65 204.00,481.53 204.68,482.42 205.37,484.30 206.05,486.21 206.73,487.80 207.42,489.93 208.10,491.01 208.74,492.86 209.38,492.76 210.01,493.75 210.65,494.74 211.29,495.71 211.92,496.00 212.56,496.81 213.20,497.78 213.81,497.74 214.42,499.21 215.03,499.77 215.64,499.61 216.25,499.16 216.86,499.76 217.47,501.01 218.08,501.32 218.69,502.12 219.30,501.01 219.93,502.01 220.56,502.96 221.19,504.03 221.82,505.69 222.45,504.64 223.08,505.93 223.71,506.59 224.34,506.14 224.97,507.41 225.60,507.25 226.25,508.50 226.89,511.54 227.54,509.17 228.18,510.53 228.83,512.24 229.47,513.01 230.12,512.10 230.76,514.51 231.41,515.11 232.05,514.46 232.70,515.23 233.33,516.90 233.96,516.98 234.59,519.23 235.22,518.41 235.85,519.27 236.48,520.21 237.12,522.34 237.75,522.36 238.38,521.24 239.01,523.99 239.64,522.65 240.27,524.39 240.90,525.31 241.53,526.18 242.16,525.21 242.79,527.54 243.42,532.29 244.05,528.59 244.68,532.33 245.32,531.27 245.95,530.12 246.58,530.42 247.21,530.14 247.84,533.30 248.47,531.08 249.10,531.40 249.73,530.99 250.36,535.36 250.99,536.88 251.62,537.93 252.25,534.82 252.88,535.41 253.52,535.70 254.15,539.16 254.78,540.64 255.41,540.43 256.04,539.80 256.67,543.84 257.30,539.44 257.91,541.22 258.52,541.73 259.13,545.36 259.74,547.17 260.35,547.42 260.96,544.29 261.57,546.08 262.18,544.65 262.79,548.20 263.40,550.41 264.03,545.08 264.66,550.13 265.29,549.38 265.92,550.43 266.55,549.92 267.18,554.14 267.82,556.93 268.45,546.50 269.08,558.08 269.71,557.00 270.34,558.74 270.97,561.34 271.60,565.29 272.21,561.39 272.82,558.70 273.43,564.30 274.04,559.41 274.65,565.30 275.26,562.73 275.87,561.40 276.48,564.22 277.09,562.61 277.70,562.88 278.33,564.53 278.97,568.88 279.60,566.58 280.23,565.48 280.87,564.33 281.50,575.26 282.13,564.38 282.77,564.25 283.40,569.59 284.03,569.20 284.67,570.87 285.30,567.71 285.94,566.77 286.58,567.98 287.23,569.73 287.87,572.37 288.51,570.09 289.15,575.22 289.79,575.94 290.43,574.49 291.07,577.19 291.72,577.32 292.36,579.47 293.00,578.95 293.64,578.71 294.28,582.71 294.93,585.70 295.57,578.39 296.21,578.78 296.85,580.90 297.49,579.78 298.13,584.82 298.77,583.33 299.42,582.86 300.06,583.37 300.70,577.62 301.34,582.64 301.98,576.04 302.62,584.05 303.27,585.57 303.91,584.55 304.55,585.04 305.19,581.25 305.83,579.56 306.47,585.70 307.12,584.91 307.76,585.70 308.40,584.40" fill="none" stroke="#c00000" stroke-width="1.8" stroke-linejoin="round"/>
<polyline points="65.50,435.77 66.23,436.34 66.95,436.53 67.68,437.27 68.41,438.39 69.14,438.95 69.86,439.51 70.59,440.47 71.32,441.13 72.05,441.71 72.77,442.48 73.50,443.14 74.30,444.62 75.10,444.57 75.90,445.09 76.70,445.08 77.50,446.06 78.30,446.62 79.10,448.07 79.90,449.17 80.63,450.06 81.36,450.93 82.09,451.75 82.81,452.74 83.54,453.97 84.27,455.45 85.00,455.04 85.75,456.32 86.50,457.58 87.25,458.45 88.00,459.20 88.75,460.60 89.50,461.14 90.26,461.53 91.02,464.58 91.78,464.62 92.54,466.05 93.30,466.73 94.02,466.51 94.75,467.53 95.47,468.50 96.20,468.52 96.92,469.02 97.65,469.71 98.38,470.80 99.10,470.29 99.81,471.24 100.52,470.33 101.23,470.74 101.94,470.22 102.66,470.87 103.37,471.04 104.08,471.10 104.79,471.89 105.50,472.16 106.30,471.67 107.10,472.48 107.90,473.60 108.70,473.22 109.50,473.53 110.30,474.63 111.10,474.22 111.88,474.26 112.65,474.74 113.42,474.35 114.20,475.14 114.97,474.50 115.75,474.61 116.52,474.78 117.30,474.74 118.00,474.69 118.70,474.32 119.40,474.60 120.10,474.03 120.80,474.14 121.50,473.45 122.20,474.06 122.90,473.90 123.60,474.91 124.30,473.66 125.00,473.88 125.76,473.14 126.52,473.20 127.28,472.73 128.04,472.61 128.80,472.57 129.56,472.55 130.32,471.80 131.08,471.54 131.84,471.92 132.60,472.03 133.30,470.89 134.00,470.22 134.70,470.09 135.40,469.96 136.10,469.38 136.80,468.86 137.50,468.15 138.20,467.52 138.90,468.09 139.60,467.15 140.30,467.40 141.07,466.12 141.84,465.90 142.61,466.84 143.38,465.00 144.15,465.20 144.92,464.62 145.69,464.18 146.46,463.87 147.23,463.64 148.00,462.79 148.76,462.92 149.52,462.97 150.28,462.69 151.04,463.51 151.80,462.55 152.56,462.75 153.32,463.12 154.08,461.76 154.84,461.73 155.60,461.35 156.31,461.08 157.02,461.17 157.72,461.21 158.43,461.30 159.14,461.03 159.85,460.72 160.56,460.89 161.27,460.82 161.97,460.81 162.68,460.70 163.39,460.02 164.10,459.42 164.92,460.82 165.74,461.83 166.56,462.11 167.38,462.52 168.20,461.80 168.96,463.77 169.72,464.63 170.49,465.33 171.25,465.52 172.01,466.92 172.78,467.73 173.54,468.29 174.30,469.22 175.12,469.76 175.94,470.96 176.76,472.63 177.58,474.25 178.40,475.07 179.22,476.70 180.04,478.75 180.86,481.22 181.68,484.51 182.50,485.30 183.32,487.03 184.14,489.27 184.96,489.85 185.78,491.81 186.60,493.47 187.40,494.99 188.20,496.21 189.00,498.20 189.80,497.95 190.60,501.01 191.40,501.30 192.14,503.21 192.87,505.11 193.61,504.29 194.35,507.61 195.08,508.67 195.82,509.38 196.55,509.84 197.29,513.26 198.03,512.70 198.76,513.85 199.50,515.69 200.27,516.54 201.03,516.16 201.80,513.21 202.57,516.76 203.33,517.19 204.10,516.22 204.86,523.09 205.62,521.22 206.39,517.34 207.15,523.58 207.91,524.31 208.67,526.47 209.44,526.42 210.20,529.68 210.97,531.20 211.75,531.43 212.53,528.62 213.30,533.28 214.07,532.16 214.85,537.15 215.62,535.45 216.40,536.29 217.16,533.52 217.93,538.07 218.69,539.37 219.45,540.45 220.21,538.62 220.97,542.52 221.74,541.71 222.50,543.40 223.26,543.10 224.03,544.65 224.79,548.86 225.55,548.28 226.31,547.13 227.07,547.22 227.84,545.51 228.60,545.75 229.31,548.09 230.02,544.34 230.73,550.45 231.44,547.36 232.15,558.64 232.86,551.55 233.57,549.71 234.28,552.49 234.99,552.57 235.70,555.72 236.47,551.10 237.23,553.77 238.00,562.21 238.77,551.39 239.53,553.11 240.30,555.32 241.08,551.35 241.87,547.89 242.65,555.29 243.43,552.96 244.22,560.00 245.00,560.04 245.71,562.04 246.43,552.74 247.14,560.97 247.86,557.56 248.57,559.48 249.29,557.99 250.00,560.40 250.73,552.01 251.45,558.73 252.18,559.06 252.91,572.19 253.64,562.66 254.36,567.42 255.09,567.42 255.82,566.69 256.55,567.17 257.27,569.04 258.00,569.41 258.80,569.24 259.60,569.41 260.40,573.47 261.20,571.28 262.00,572.16 263.00,579.86 264.00,584.70" fill="none" stroke="#ffc000" stroke-width="1.9" stroke-linejoin="round"/>
<polyline points="65.50,436.02 66.24,436.06 66.99,436.63 67.73,436.79 68.48,437.32 69.22,437.79 69.97,438.20 70.71,438.78 71.46,439.34 72.20,439.87 72.93,439.63 73.66,439.57 74.39,439.14 75.11,439.36 75.84,438.70 76.57,438.84 77.30,438.76 78.05,437.93 78.80,436.95 79.55,436.63 80.30,435.73 81.05,434.43 81.80,434.07 82.67,435.04 83.53,435.37 84.40,436.49 85.35,441.27 86.30,446.75 87.17,448.83 88.03,451.05 88.90,453.18 89.85,455.59 90.80,459.58 92.00,467.61 93.30,471.20 94.10,471.92 94.90,473.26 95.70,475.11 96.50,475.13 97.22,476.49 97.94,476.18 98.67,476.32 99.39,476.52 100.11,476.58 100.83,476.92 101.56,476.99 102.28,477.20 103.00,477.94 103.79,476.92 104.58,476.75 105.36,476.71 106.15,475.89 106.94,475.77 107.72,474.95 108.51,475.62 109.30,475.12 110.03,474.46 110.75,473.48 111.48,472.47 112.21,472.75 112.94,471.59 113.66,471.07 114.39,470.04 115.12,469.71 115.85,468.70 116.57,467.88 117.30,468.40 118.07,466.65 118.83,466.65 119.60,465.99 120.37,465.63 121.13,465.24 121.90,464.49 122.67,463.09 123.43,462.12 124.20,462.39 124.96,462.08 125.71,462.43 126.47,462.88 127.23,462.87 127.99,463.63 128.74,463.95 129.50,463.69 130.27,464.04 131.04,465.65 131.81,466.02 132.59,466.47 133.36,467.73 134.13,467.28 134.90,469.07 135.66,470.35 136.42,471.93 137.18,474.00 137.94,475.09 138.70,476.75 139.48,478.23 140.26,479.21 141.04,480.47 141.82,482.19 142.60,483.89 143.36,483.60 144.12,485.58 144.88,487.21 145.64,487.44 146.40,490.50 147.16,492.31 147.93,494.58 148.69,496.57 149.45,498.48 150.21,501.29 150.97,502.90 151.74,504.12 152.50,505.74 153.26,507.08 154.03,507.72 154.79,510.59 155.55,512.33 156.31,513.03 157.07,515.84 157.84,514.53 158.60,516.69 159.38,517.32 160.15,518.50 160.93,519.46 161.70,521.61 162.47,520.47 163.25,522.34 164.03,522.93 164.80,524.29 165.56,528.65 166.33,524.91 167.09,529.91 167.85,533.27 168.61,529.50 169.38,531.64 170.14,534.38 170.90,534.39 171.72,538.25 172.54,537.27 173.36,540.97 174.18,539.41 175.00,537.95 175.82,543.64 176.64,548.46 177.46,544.59 178.28,556.01 179.10,552.81 179.92,554.18 180.74,552.09 181.56,560.49 182.38,559.32 183.20,559.15 184.02,563.39 184.84,564.04 185.66,566.76 186.48,576.28 187.30,572.30 188.30,576.35 189.30,584.40" fill="none" stroke="#0018d0" stroke-width="1.8" stroke-linejoin="round"/>
<polyline points="65.50,436.35 66.34,437.27 67.18,437.51 68.02,437.80 68.86,438.32 69.70,439.55 70.58,439.41 71.46,439.91 72.34,441.36 73.22,443.02 74.10,442.70 75.40,449.81 76.70,453.97 77.50,455.57 78.30,457.66 79.10,458.87 79.90,460.21 80.97,461.15 82.03,462.72 83.10,465.07 84.00,466.08 84.90,466.46 85.80,468.45 86.70,469.56 87.60,470.13 88.55,469.83 89.50,471.33 90.45,471.63 91.40,472.24 92.35,472.28 93.30,474.46 94.25,476.45 95.20,476.30 96.02,476.17 96.83,475.50 97.65,477.55 98.47,476.93 99.28,476.92 100.10,478.15 100.92,479.69 101.73,477.58 102.55,477.80 103.37,478.96 104.18,478.96 105.00,478.55 105.87,479.17 106.74,479.94 107.61,479.56 108.49,480.11 109.36,480.63 110.23,480.82 111.10,481.55 111.96,481.10 112.81,482.22 113.67,481.75 114.52,482.91 115.38,480.75 116.23,482.60 117.09,483.31 117.94,483.24 118.80,483.53 119.66,483.78 120.51,484.93 121.37,484.10 122.22,485.46 123.08,484.68 123.93,486.99 124.79,486.64 125.64,486.95 126.50,486.62 127.37,486.68 128.24,486.14 129.11,485.80 129.99,485.85 130.86,486.76 131.73,486.67 132.60,485.33 133.52,484.94 134.44,484.34 135.36,483.79 136.28,483.40 137.20,481.67 138.15,481.15 139.10,480.88 140.05,481.14 141.00,481.27 141.80,481.60 142.60,483.64 143.40,484.76 144.90,490.74 145.78,494.40 146.65,497.13 147.53,498.88 148.40,504.92 149.45,509.48 150.50,514.61 151.30,517.00 152.10,516.24 152.90,515.15 153.70,518.47 154.50,519.81 155.60,529.65 156.60,533.73 157.42,533.59 158.24,537.24 159.06,538.57 159.88,535.64 160.70,536.55 161.73,539.26 162.77,540.21 163.80,543.99 164.80,549.95 165.80,556.78 166.80,571.94 167.40,584.40" fill="none" stroke="#7f7f7f" stroke-width="2.4" stroke-linejoin="round"/>
</g>
<rect x="65.50" y="409.00" width="293.60" height="175.70" fill="none" stroke="#000" stroke-width="1.75"/>
<text x="298.70" y="420.80" font-size="13.3" textLength="42.00" lengthAdjust="spacingAndGlyphs" stroke="#000" stroke-width="0.15" text-anchor="end">7.0×10</text>
<text x="299.80" y="415.20" font-size="8.8" textLength="9.20" lengthAdjust="spacingAndGlyphs" stroke="#000" stroke-width="0.15">18</text>
<line x1="308.50" y1="417.20" x2="351.50" y2="417.20" stroke="#000" stroke-width="2.2" stroke-dasharray="2.1 2.9"/>
<text x="298.70" y="439.44" font-size="13.3" textLength="42.00" lengthAdjust="spacingAndGlyphs" stroke="#000" stroke-width="0.15" text-anchor="end">1.5×10</text>
<text x="299.80" y="433.84" font-size="8.8" textLength="9.20" lengthAdjust="spacingAndGlyphs" stroke="#000" stroke-width="0.15">19</text>
<line x1="310.00" y1="434.64" x2="354.70" y2="434.64" stroke="#000" stroke-width="1.7"/>
<text x="298.70" y="458.08" font-size="13.3" textLength="42.00" lengthAdjust="spacingAndGlyphs" stroke="#000" stroke-width="0.15" text-anchor="end">2.0×10</text>
<text x="299.80" y="452.48" font-size="8.8" textLength="9.20" lengthAdjust="spacingAndGlyphs" stroke="#000" stroke-width="0.15">19</text>
<line x1="310.00" y1="452.08" x2="354.70" y2="452.08" stroke="#c00000" stroke-width="1.7"/>
<text x="298.70" y="476.72" font-size="13.3" textLength="42.00" lengthAdjust="spacingAndGlyphs" stroke="#000" stroke-width="0.15" text-anchor="end">3.0×10</text>
<text x="299.80" y="471.12" font-size="8.8" textLength="9.20" lengthAdjust="spacingAndGlyphs" stroke="#000" stroke-width="0.15">19</text>
<line x1="310.00" y1="469.52" x2="354.70" y2="469.52" stroke="#ffc000" stroke-width="1.7"/>
<text x="298.70" y="495.36" font-size="13.3" textLength="42.00" lengthAdjust="spacingAndGlyphs" stroke="#000" stroke-width="0.15" text-anchor="end">7.0×10</text>
<text x="299.80" y="489.76" font-size="8.8" textLength="9.20" lengthAdjust="spacingAndGlyphs" stroke="#000" stroke-width="0.15">19</text>
<line x1="310.00" y1="486.96" x2="354.70" y2="486.96" stroke="#0018d0" stroke-width="1.7"/>
<text x="298.70" y="514.00" font-size="13.3" textLength="42.00" lengthAdjust="spacingAndGlyphs" stroke="#000" stroke-width="0.15" text-anchor="end">1.2×10</text>
<text x="299.80" y="508.40" font-size="8.8" textLength="9.20" lengthAdjust="spacingAndGlyphs" stroke="#000" stroke-width="0.15">20</text>
<line x1="310.00" y1="504.40" x2="354.70" y2="504.40" stroke="#7f7f7f" stroke-width="1.7"/>
<text x="37.30" y="412.30" font-size="13.6" textLength="14.20" lengthAdjust="spacingAndGlyphs" stroke="#000" stroke-width="0.15">10</text>
<text x="52.90" y="407.50" font-size="10" textLength="5.20" lengthAdjust="spacingAndGlyphs" stroke="#000" stroke-width="0.15">9</text>
<text x="37.30" y="472.40" font-size="13.6" textLength="14.20" lengthAdjust="spacingAndGlyphs" stroke="#000" stroke-width="0.15">10</text>
<text x="52.90" y="467.60" font-size="10" textLength="5.20" lengthAdjust="spacingAndGlyphs" stroke="#000" stroke-width="0.15">7</text>
<text x="37.30" y="532.40" font-size="13.6" textLength="14.20" lengthAdjust="spacingAndGlyphs" stroke="#000" stroke-width="0.15">10</text>
<text x="52.90" y="527.60" font-size="10" textLength="5.20" lengthAdjust="spacingAndGlyphs" stroke="#000" stroke-width="0.15">5</text>
<text x="37.30" y="592.40" font-size="13.6" textLength="14.20" lengthAdjust="spacingAndGlyphs" stroke="#000" stroke-width="0.15">10</text>
<text x="52.90" y="587.60" font-size="10" textLength="5.20" lengthAdjust="spacingAndGlyphs" stroke="#000" stroke-width="0.15">3</text>
<text x="31.30" y="442.40" font-size="13.6" textLength="14.20" lengthAdjust="spacingAndGlyphs" fill="#f7f7f7" stroke="#f7f7f7" stroke-width="0.15">10</text>
<text x="46.90" y="437.60" font-size="10" textLength="5.20" lengthAdjust="spacingAndGlyphs" fill="#f7f7f7" stroke="#f7f7f7" stroke-width="0.15">8</text>
<text x="31.30" y="502.40" font-size="13.6" textLength="14.20" lengthAdjust="spacingAndGlyphs" fill="#f7f7f7" stroke="#f7f7f7" stroke-width="0.15">10</text>
<text x="46.90" y="497.60" font-size="10" textLength="5.20" lengthAdjust="spacingAndGlyphs" fill="#f7f7f7" stroke="#f7f7f7" stroke-width="0.15">6</text>
<text x="31.30" y="562.40" font-size="13.6" textLength="14.20" lengthAdjust="spacingAndGlyphs" fill="#f7f7f7" stroke="#f7f7f7" stroke-width="0.15">10</text>
<text x="46.90" y="557.60" font-size="10" textLength="5.20" lengthAdjust="spacingAndGlyphs" fill="#f7f7f7" stroke="#f7f7f7" stroke-width="0.15">4</text>
<text x="65.70" y="598.50" font-size="14" stroke="#000" stroke-width="0.15" text-anchor="middle">0</text>
<text x="158.40" y="598.40" font-size="14" stroke="#000" stroke-width="0.15" text-anchor="middle">100</text>
<text x="261.80" y="598.20" font-size="14" stroke="#000" stroke-width="0.15" text-anchor="middle">200</text>
<text x="354.50" y="597.90" font-size="14" stroke="#000" stroke-width="0.15" text-anchor="middle">300</text>
<text x="144.60" y="610.30" font-size="13" textLength="141.00" lengthAdjust="spacingAndGlyphs" stroke="#000" stroke-width="0.15">Electron energy [MeV]</text>
<text x="21.20" y="589.90" font-size="12.6" textLength="160.00" lengthAdjust="spacingAndGlyphs" stroke="#000" stroke-width="0.35" transform="rotate(-90 21.20 589.90)">Spectral density [1/MeV]</text>
<text x="12.60" y="415.10" font-size="16.5" textLength="7.90" lengthAdjust="spacingAndGlyphs" stroke="#000" stroke-width="0.15" font-weight="bold">c</text>
<line x1="160.47" y1="653.70" x2="160.47" y2="797.60" stroke="#d9d9d9" stroke-width="1.3"/>
<line x1="245.33" y1="653.70" x2="245.33" y2="797.60" stroke="#d9d9d9" stroke-width="1.3"/>
<line x1="75.60" y1="780.60" x2="330.20" y2="780.60" stroke="#d9d9d9" stroke-width="1.2"/>
<line x1="75.60" y1="762.47" x2="330.20" y2="762.47" stroke="#d9d9d9" stroke-width="1.2"/>
<line x1="75.60" y1="744.34" x2="330.20" y2="744.34" stroke="#d9d9d9" stroke-width="1.2"/>
<line x1="75.60" y1="726.22" x2="330.20" y2="726.22" stroke="#d9d9d9" stroke-width="1.2"/>
<line x1="75.60" y1="708.09" x2="330.20" y2="708.09" stroke="#d9d9d9" stroke-width="1.2"/>
<line x1="75.60" y1="689.96" x2="330.20" y2="689.96" stroke="#d9d9d9" stroke-width="1.2"/>
<line x1="75.60" y1="671.83" x2="330.20" y2="671.83" stroke="#d9d9d9" stroke-width="1.2"/>
<rect x="75.60" y="653.70" width="254.60" height="143.90" fill="none" stroke="#bfbfbf" stroke-width="1.2"/>
<line x1="75.60" y1="697.80" x2="330.20" y2="697.80" stroke="#e00000" stroke-width="1.6" stroke-dasharray="1.7 2.2"/>
<line x1="75.60" y1="739.80" x2="330.20" y2="739.80" stroke="#e00000" stroke-width="1.6" stroke-dasharray="1.7 2.2"/>
<line x1="215.80" y1="673.00" x2="215.80" y2="799.00" stroke="#000" stroke-width="1.6" stroke-dasharray="1.4 2"/>
<path d="M75.60,699.10 C76.35,698.57 78.07,696.97 80.10,695.90 C82.13,694.83 85.45,693.60 87.80,692.70 C90.15,691.80 92.07,691.05 94.20,690.50 C96.33,689.95 97.97,689.62 100.60,689.40 C103.23,689.18 93.43,689.23 110.00,689.20 C126.57,689.17 177.67,689.20 200.00,689.20 C222.33,689.20 234.97,688.87 244.00,689.20 C253.03,689.53 250.97,689.88 254.20,691.20 C257.43,692.52 260.33,694.75 263.40,697.10 C266.47,699.45 269.53,702.40 272.60,705.30 C275.67,708.20 278.73,711.38 281.80,714.50 C284.87,717.62 287.93,720.70 291.00,724.00 C294.07,727.30 297.12,730.92 300.20,734.30 C303.28,737.68 306.42,741.18 309.50,744.30 C312.58,747.42 315.25,750.22 318.70,753.00 C322.15,755.78 328.28,759.67 330.20,761.00" fill="none" stroke="#000" stroke-width="1.9" stroke-dasharray="4.4 2.6"/>
<polyline points="79.50,668.40 98.00,688.20 105.70,690.80 113.40,693.40 120.00,698.20 131.50,707.20 145.60,711.80 158.40,720.20 171.20,727.90 183.90,736.30 196.70,739.40 207.00,738.10 215.20,736.20 223.00,739.60 232.90,745.20 249.80,762.10 268.20,779.00 283.60,785.20 302.70,783.40 330.20,782.20" fill="none" stroke="#00b050" stroke-width="2.6" stroke-linejoin="round"/>
<polyline points="87.10,692.10 98.00,688.50 105.70,683.40 113.40,681.20 121.70,678.70 137.90,688.80 155.80,670.90 172.40,681.90 189.00,678.50 204.40,678.50 223.00,693.60 238.30,696.00 256.70,725.20 272.10,736.30 288.60,755.90" fill="none" stroke="#c00000" stroke-width="1.9" stroke-linejoin="round"/>
<polyline points="78.80,780.80 90.30,766.70 100.60,755.20 113.40,741.20 126.20,728.90 138.90,718.10 151.70,708.40 164.50,699.60 175.00,692.80 183.90,689.00 196.70,683.10 209.50,675.50 220.00,670.30 235.20,662.90 250.60,658.60 269.00,656.80 287.40,656.80 300.00,657.70 317.00,659.10 330.20,659.30" fill="none" stroke="#0000c0" stroke-width="1.8" stroke-linejoin="round"/>
<text x="81.20" y="709.80" font-size="13.3" textLength="5.80" lengthAdjust="spacingAndGlyphs" fill="#c00000" stroke="#c00000" stroke-width="0.15">E</text>
<text x="88.40" y="712.60" font-size="12" textLength="29.60" lengthAdjust="spacingAndGlyphs" fill="#c00000" stroke="#c00000" stroke-width="0.15">scaling</text>
<text x="83.00" y="750.70" font-size="13.3" textLength="5.80" lengthAdjust="spacingAndGlyphs" fill="#c00000" stroke="#c00000" stroke-width="0.15">E</text>
<text x="89.70" y="753.50" font-size="12" textLength="27.30" lengthAdjust="spacingAndGlyphs" fill="#c00000" stroke="#c00000" stroke-width="0.15">scaling</text>
<text x="117.00" y="750.70" font-size="13.3" textLength="4.40" lengthAdjust="spacingAndGlyphs" fill="#c00000" stroke="#c00000" stroke-width="0.15">/</text>
<text x="122.60" y="750.70" font-size="13.3" textLength="6.60" lengthAdjust="spacingAndGlyphs" fill="#c00000" stroke="#c00000" stroke-width="0.15">2</text>
<text x="204.20" y="789.00" font-size="12.6" textLength="79.20" lengthAdjust="spacingAndGlyphs" stroke="#000" stroke-width="0.35" transform="rotate(-90 204.20 789.00)">Depl. Length</text>
<line x1="56.40" y1="624.00" x2="102.00" y2="624.00" stroke="#00b050" stroke-width="2.5"/>
<text x="106.20" y="627.50" font-size="13" textLength="55.20" lengthAdjust="spacingAndGlyphs" stroke="#000" stroke-width="0.15">E_acc (L)</text>
<line x1="56.40" y1="641.60" x2="101.40" y2="641.60" stroke="#0000c0" stroke-width="1.8"/>
<text x="106.20" y="645.90" font-size="13" textLength="59.80" lengthAdjust="spacingAndGlyphs" stroke="#000" stroke-width="0.15">W_gain (L)</text>
<line x1="234.10" y1="623.30" x2="279.40" y2="623.30" stroke="#c00000" stroke-width="1.6"/>
<text x="284.20" y="629.40" font-size="13" textLength="57.60" lengthAdjust="spacingAndGlyphs" stroke="#000" stroke-width="0.15">E_dec (L)</text>
<line x1="234.10" y1="640.60" x2="279.40" y2="640.60" stroke="#000" stroke-width="1.7" stroke-dasharray="4 2.4"/>
<text x="284.20" y="646.80" font-size="13" textLength="68.00" lengthAdjust="spacingAndGlyphs" stroke="#000" stroke-width="0.15">Density (R)</text>
<text x="71.60" y="655.80" font-size="14" stroke="#000" stroke-width="0.15" text-anchor="end">140</text>
<text x="71.60" y="673.70" font-size="14" stroke="#000" stroke-width="0.15" text-anchor="end">120</text>
<text x="71.60" y="692.60" font-size="14" stroke="#000" stroke-width="0.15" text-anchor="end">100</text>
<text x="71.60" y="711.00" font-size="14" stroke="#000" stroke-width="0.15" text-anchor="end">80</text>
<text x="71.60" y="729.60" font-size="14" stroke="#000" stroke-width="0.15" text-anchor="end">60</text>
<text x="71.60" y="748.80" font-size="14" stroke="#000" stroke-width="0.15" text-anchor="end">40</text>
<text x="71.60" y="768.00" font-size="14" stroke="#000" stroke-width="0.15" text-anchor="end">20</text>
<text x="71.60" y="786.60" font-size="14" stroke="#000" stroke-width="0.15" text-anchor="end">0</text>
<text x="79.40" y="811.00" font-size="14" stroke="#000" stroke-width="0.15" text-anchor="middle">100</text>
<text x="161.40" y="811.00" font-size="14" stroke="#000" stroke-width="0.15" text-anchor="middle">200</text>
<text x="243.40" y="811.00" font-size="14" stroke="#000" stroke-width="0.15" text-anchor="middle">300</text>
<text x="329.70" y="810.50" font-size="14" stroke="#000" stroke-width="0.15" text-anchor="middle">400</text>
<text x="341.00" y="694.50" font-size="14" stroke="#000" stroke-width="0.15" text-anchor="start">1.0</text>
<text x="339.40" y="787.60" font-size="14" stroke="#000" stroke-width="0.15" text-anchor="start">0</text>
<text x="372.60" y="694.00" font-size="12.6" textLength="93.60" lengthAdjust="spacingAndGlyphs" stroke="#000" stroke-width="0.35" transform="rotate(90 372.60 694.00)">Plasma density</text>
<text x="355.60" y="698.20" font-size="12.6" textLength="83.80" lengthAdjust="spacingAndGlyphs" stroke="#000" stroke-width="0.35" transform="rotate(90 355.60 698.20)">(normalized)</text>
<text x="17.70" y="803.00" font-size="14.2" textLength="75.00" lengthAdjust="spacingAndGlyphs" stroke="#000" stroke-width="0.35" transform="rotate(-90 17.70 803.00)">Electric field</text>
<text x="17.70" y="718.20" font-size="14.2" textLength="16.10" lengthAdjust="spacingAndGlyphs" stroke="#000" stroke-width="0.35" transform="rotate(-90 17.70 718.20)">[10</text>
<text x="12.40" y="696.20" font-size="10.5" textLength="9.80" lengthAdjust="spacingAndGlyphs" stroke="#000" stroke-width="0.35" transform="rotate(-90 12.40 696.20)">10</text>
<text x="17.70" y="683.20" font-size="14.2" textLength="31.30" lengthAdjust="spacingAndGlyphs" stroke="#000" stroke-width="0.35" transform="rotate(-90 17.70 683.20)">V/m]</text>
<text x="36.00" y="813.20" font-size="14.0" textLength="171.70" lengthAdjust="spacingAndGlyphs" stroke="#000" stroke-width="0.35" transform="rotate(-90 36.00 813.20)">Electron energy gain [MeV]</text>
<text x="173.00" y="827.50" font-size="12.6" textLength="6.50" lengthAdjust="spacingAndGlyphs" stroke="#000" stroke-width="0.15" font-style="italic">x</text>
<text x="182.50" y="827.50" font-size="12.6" textLength="84.20" lengthAdjust="spacingAndGlyphs" stroke="#000" stroke-width="0.15">position [µm]</text>
</svg>
</body></html>
